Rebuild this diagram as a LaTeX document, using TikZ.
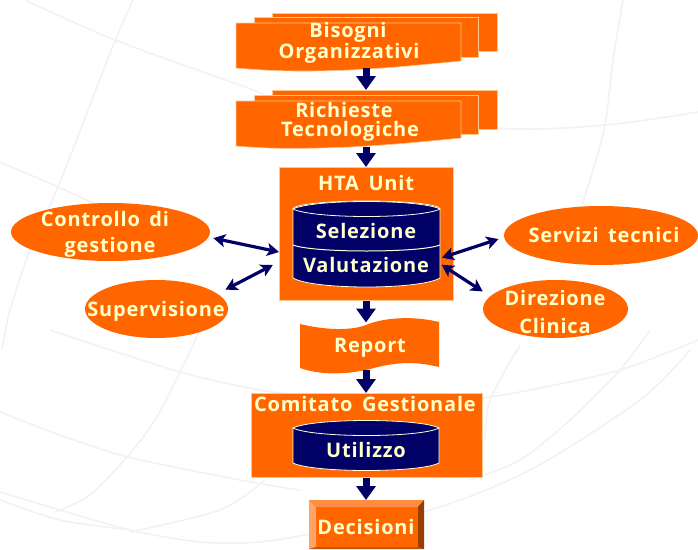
\documentclass[tikz,border=0pt]{standalone}
\usepackage{fontspec}
\setmainfont[LetterSpace=4,WordSpace=1.6]{Open Sans}
\usetikzlibrary{arrows.meta,shapes.geometric}
\definecolor{org}{HTML}{FF6600}
\definecolor{navy}{HTML}{000066}
\definecolor{cream}{HTML}{FFFFCC}
\definecolor{edgeo}{HTML}{FFC78F}
\definecolor{bgl}{HTML}{F1F1F7}
\tikzset{
  fillo/.style={fill=org,draw=edgeo,line width=.6pt},
  anchorbox/.style={rectangle,inner sep=0pt,outer sep=0pt},
  orgbox/.style={anchorbox,fill=org,draw=edgeo,line width=.6pt},
  oval/.style={ellipse,inner sep=0pt,outer sep=0pt,fill=org,draw=none},
  lbl/.style={text=cream,font=\fontsize{20}{20}\selectfont\bfseries,inner sep=0pt,anchor=center},
  drumlbl/.style={lbl},
  blockarrow/.style={draw=navy,line width=7pt,-{Triangle[width=19pt,length=14pt]}},
  twoway/.style={draw=navy,line width=3.2pt,{Stealth[width=13pt,length=12pt,inset=3pt]}-{Stealth[width=13pt,length=12pt,inset=3pt]}},
  drum/.style={fill=navy,draw=cream!70!white,line width=.8pt},
  bgline/.style={draw=bgl,line width=1.6pt}
}
\begin{document}
\begin{tikzpicture}[x=1pt,y=-1pt]
\useasboundingbox (0,0) rectangle (698,549);
% background globe
\draw[bgline] plot[smooth] coordinates {(25,0) (115,40) (240,85) (300,104) (497,128) (605,125) (698,112)};
\draw[bgline] plot[smooth] coordinates {(133,0) (115,41) (90,105) (58,187) (30,250) (10,310) (2,350)};
\draw[bgline] plot[smooth] coordinates {(0,162) (58,187) (120,215)};
\draw[bgline] plot[smooth] coordinates {(50,330) (180,372) (260,390) (300,395)};
\draw[bgline] plot[smooth] coordinates {(483,398) (530,390) (620,370) (698,340)};
\draw[bgline] plot[smooth] coordinates {(0,412) (60,435) (128,457) (240,480) (300,490)};
\draw[bgline] plot[smooth] coordinates {(0,492) (60,510) (130,530) (200,542) (260,542) (320,532) (430,510) (530,470) (640,400) (690,350)};
\draw[bgline] plot[smooth] coordinates {(0,500) (60,520) (130,530)};
\draw[bgline] plot[smooth] coordinates {(200,330) (180,372) (155,420) (127,457) (90,495) (55,512)};
\draw[bgline] plot[smooth] coordinates {(265,480) (220,510) (130,532)};
\draw[bgline] plot[smooth] coordinates {(623,0) (613,60) (605,125) (590,180) (580,210)};
\draw[bgline] plot[smooth] coordinates {(650,330) (620,370) (570,420) (520,460) (470,480)};
\draw[bgline] plot[smooth] coordinates {(520,345) (490,400) (485,440)};
% Bisogni stack
\node[orgbox,minimum width=225pt,minimum height=38pt] (bisc) at (384.5,32) {};
\node[orgbox,minimum width=224pt,minimum height=40pt] (bisb) at (366,37.5) {};
\path[fillo] (236,23) -- (461,23) -- (461,61) .. controls (420,65) and (390,68) .. (350,70) .. controls (300,72) and (270,71) .. (236,68) -- cycle;
\node[anchorbox,minimum width=225pt,minimum height=46pt] (bis) at (348.5,46) {};
\node[lbl] (bis1) at (348,32) {Bisogni};
\node[lbl] (bis2) at (349,53) {Organizzativi};
% Richieste stack
\node[orgbox,minimum width=225pt,minimum height=39pt] (ricc) at (384.5,109.5) {};
\node[orgbox,minimum width=224pt,minimum height=39pt] (ricb) at (366,114.5) {};
\path[fillo] (236,101) -- (461,101) -- (461,138) .. controls (420,142) and (390,145) .. (350,147) .. controls (300,149) and (270,149) .. (236,146) -- cycle;
\node[anchorbox,minimum width=225pt,minimum height=46pt] (ric) at (348.5,124) {};
\node[lbl] (ric1) at (344,110) {Richieste};
\node[lbl] (ric2) at (350,131) {Tecnologiche};
% HTA unit
\node[orgbox,minimum width=174pt,minimum height=133pt] (hta) at (366,233.5) {};
\node[lbl] (htat) at (366,183) {HTA Unit};
\path[drum] (293,209) arc[x radius=73.5,y radius=8,start angle=180,end angle=360] -- (440,278) .. controls (420,290) and (313,290) .. (293,278) -- cycle;
\path[drum] (293,209) .. controls (313,199) and (420,199) .. (440,209) .. controls (420,219) and (313,219) .. (293,209) -- cycle;
\draw[cream!70!white,line width=1pt] (293,245) .. controls (313,253) and (420,253) .. (440,245);
\node[anchorbox,minimum width=147pt,minimum height=86pt] (cyl) at (366.5,244) {};
\node[drumlbl] (sel) at (366,231) {Selezione};
\node[drumlbl] (val) at (366,265) {Valutazione};
% Report
\path[fill=org] (300,324) .. controls (325,330) and (350,331) .. (366,325) .. controls (385,317) and (415,316) .. (439,322) -- (439,367) .. controls (415,361) and (395,362) .. (370,369) .. controls (345,375) and (320,375) .. (300,368) -- cycle;
\node[anchorbox,minimum width=139pt,minimum height=47pt] (rep) at (369.5,346) {};
\node[lbl] (rept) at (370,348) {Report};
% Comitato
\node[orgbox,minimum width=231pt,minimum height=84pt] (com) at (366.5,435) {};
\node[lbl] (comt) at (365,404) {Comitato Gestionale};
\path[drum] (293,428) -- (293,463) .. controls (313,473) and (420,473) .. (439,463) -- (439,428) -- cycle;
\path[drum] (293,428) .. controls (313,418) and (420,418) .. (439,428) .. controls (420,438) and (313,438) .. (293,428) -- cycle;
\node[drumlbl] (uti) at (366,450) {Utilizzo};
% Decisioni
\node[anchorbox,minimum width=115pt,minimum height=49pt] (dec) at (366.5,524.5) {};
\fill[org] (309,500) rectangle (424,549);
\fill[org!75!white] (309,500) -- (424,500) -- (418,507) -- (316,507) -- cycle;
\fill[org!60!white] (309,500) -- (316,507) -- (316,547) -- (309,549) -- cycle;
\fill[org!60!black] (424,500) -- (418,507) -- (418,547) -- (424,549) -- cycle;
\fill[org!80!black] (309,549) -- (316,547) -- (418,547) -- (424,549) -- cycle;
\node[lbl] (dect) at (366,527) {Decisioni};
% Ellipses
\node[oval,minimum width=199pt,minimum height=58pt] (ctrl) at (110.5,232) {};
\node[lbl] (ctrl1) at (105,219) {Controllo di};
\node[lbl] (ctrl2) at (110,247) {gestione};
\node[oval,minimum width=143pt,minimum height=58pt] (sup) at (156.5,309) {};
\node[lbl] (supt) at (156,311) {Supervisione};
\node[oval,minimum width=194pt,minimum height=59pt] (srv) at (601,235.5) {};
\node[lbl] (srvt) at (604,235) {Servizi tecnici};
\node[oval,minimum width=145pt,minimum height=58pt] (dir) at (555.5,309) {};
\node[lbl] (dir1) at (555,298) {Direzione};
\node[lbl] (dir2) at (555,326) {Clinica};
% connectors
\draw[blockarrow] (bis.south -| hta) ++(0,-1) -- (ricc.north -| hta);
\draw[blockarrow] (ric.south -| hta) -- (hta.north);
\draw[blockarrow] (hta.south) ++(0,1) -- (rep.north -| hta);
\draw[blockarrow] (rep.south -| hta) -- (com.north -| hta);
\draw[blockarrow] (com.south -| hta) ++(0,1) -- (dec.north -| hta);
\draw[twoway,shorten <=5pt] (ctrl.-3) -- (hta.192);
\draw[twoway,shorten <=9pt,shorten >=7pt] (sup.14) -- (hta.198);
\draw[twoway,shorten <=6pt,shorten >=2pt] (srv.181) -- (cyl.-11);
\draw[twoway,shorten <=9pt,shorten >=2pt] (dir.169) -- (cyl.-15);
\end{tikzpicture}
\end{document}
